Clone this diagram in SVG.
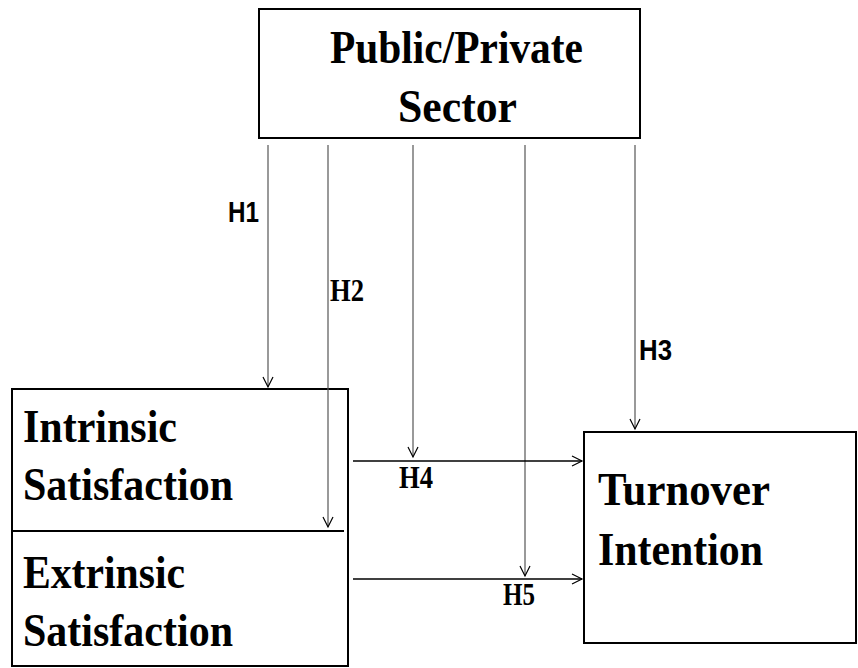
<svg xmlns="http://www.w3.org/2000/svg" width="858" height="668" viewBox="0 0 858 668">
<style>
.box{fill:#fff;stroke:#000;stroke-width:2}
.big{font-family:"Liberation Serif","Times New Roman",serif;font-weight:bold;font-size:47px;fill:#000}
.hs{font-family:"Liberation Serif","Times New Roman",serif;font-weight:bold;font-size:31px;fill:#000}
.ha{font-family:"Liberation Sans",Arial,sans-serif;font-weight:bold;font-size:30px;fill:#000}
.v{stroke:#555;stroke-width:1.2;fill:none}
.h{stroke:#000;stroke-width:1.4;fill:none}
</style>
<defs>
<marker id="ah" markerUnits="userSpaceOnUse" markerWidth="12" markerHeight="12" refX="10" refY="5" orient="auto" overflow="visible">
<path d="M0,0 L10,5 L0,10" fill="none" stroke="#000" stroke-width="1.2"/>
</marker>
</defs>
<rect width="858" height="668" fill="#fff"/>
<g id="sector">
<rect class="box" x="259" y="9" width="381" height="129"/>
<text class="big" x="330" y="63" textLength="253" lengthAdjust="spacingAndGlyphs">Public/Private</text>
<text class="big" x="398" y="122" textLength="119" lengthAdjust="spacingAndGlyphs">Sector</text>
</g>
<g id="satisfaction">
<rect class="box" x="12" y="389" width="336" height="277"/>
<line x1="12" y1="531" x2="344" y2="531" stroke="#000" stroke-width="2"/>
<g id="intrinsic">
<text class="big" x="23" y="442" textLength="154" lengthAdjust="spacingAndGlyphs">Intrinsic</text>
<text class="big" x="23" y="500" textLength="210" lengthAdjust="spacingAndGlyphs">Satisfaction</text>
</g>
<g id="extrinsic">
<text class="big" x="23" y="588" textLength="162" lengthAdjust="spacingAndGlyphs">Extrinsic</text>
<text class="big" x="23" y="646" textLength="210" lengthAdjust="spacingAndGlyphs">Satisfaction</text>
</g>
</g>
<g id="turnover">
<rect class="box" x="584" y="432" width="272" height="211"/>
<text class="big" x="598" y="505" textLength="172" lengthAdjust="spacingAndGlyphs">Turnover</text>
<text class="big" x="598" y="565" textLength="165" lengthAdjust="spacingAndGlyphs">Intention</text>
</g>
<g id="connectors">
<line class="v" x1="268" y1="145" x2="268" y2="387" marker-end="url(#ah)"/>
<line class="v" x1="328" y1="145" x2="328" y2="527" marker-end="url(#ah)"/>
<line class="v" x1="413" y1="145" x2="413" y2="457" marker-end="url(#ah)"/>
<line class="v" x1="525" y1="145" x2="525" y2="576" marker-end="url(#ah)"/>
<line class="v" x1="635" y1="145" x2="635" y2="429" marker-end="url(#ah)"/>
<line class="h" x1="353" y1="461" x2="582" y2="461" marker-end="url(#ah)"/>
<line class="h" x1="353" y1="579" x2="582" y2="579" marker-end="url(#ah)"/>
<text class="ha" x="228" y="222" textLength="31" lengthAdjust="spacingAndGlyphs">H1</text>
<text class="hs" x="330" y="301" textLength="34" lengthAdjust="spacingAndGlyphs">H2</text>
<text class="ha" x="639" y="360" textLength="33" lengthAdjust="spacingAndGlyphs">H3</text>
<text class="hs" x="399" y="488" textLength="34" lengthAdjust="spacingAndGlyphs">H4</text>
<text class="hs" x="503" y="605" textLength="32" lengthAdjust="spacingAndGlyphs">H5</text>
</g>
</svg>
